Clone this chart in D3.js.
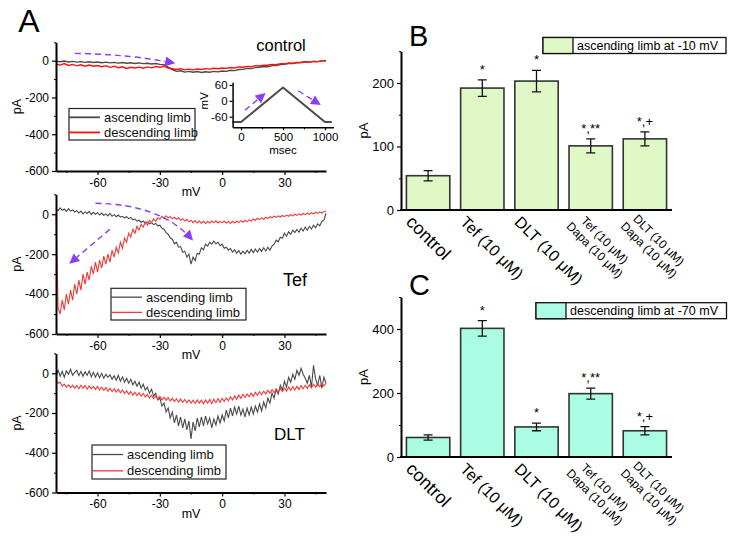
<!DOCTYPE html>
<html>
<head>
<meta charset="utf-8">
<script src="https://cdn.jsdelivr.net/npm/d3@7"></script>
<style>
  body { margin: 0; background: #fff; }
  svg { font-family: "Liberation Sans", Arial, sans-serif; }
</style>
</head>
<body>
<svg id="fig" width="734" height="538"></svg>
<script>
// ---- data: panel A, control traces sampled every 2 mV ----
const mv2 = [-80,-78,-76,-74,-72,-70,-68,-66,-64,-62,-60,-58,-56,-54,-52,-50,-48,-46,-44,-42,
  -40,-38,-36,-34,-32,-30,-28,-26,-24,-22,-20,-18,-16,-14,-12,-10,-8,-6,-4,-2,
  0,2,4,6,8,10,12,14,16,18,20,22,24,26,28,30,32,34,36,38,40,42,44,46,48,50];

const ctlAsc = [-3,-6,-2,-7,-4,-8,-5,-9,-6,-10,-7,-11,-8,-12,-9,-13,-10,-14,-11,-15,
  -12,-16,-14,-18,-15,-20,-22,-35,-48,-58,-55,-62,-58,-63,-59,-64,-60,-63,-58,-61,
  -56,-58,-52,-54,-48,-47,-42,-43,-38,-36,-32,-33,-27,-26,-21,-20,-15,-16,-11,-10,-7,-8,-4,-5,-1,0];
const ctlDesc = [-18,-24,-16,-26,-20,-28,-22,-30,-24,-30,-26,-33,-27,-36,-30,-38,-33,-42,-36,-40,
  -35,-41,-34,-39,-32,-36,-30,-40,-44,-48,-44,-50,-46,-50,-45,-48,-43,-46,-41,-44,
  -40,-42,-37,-40,-34,-36,-31,-33,-27,-29,-24,-25,-20,-22,-16,-17,-12,-14,-9,-10,-6,-8,-4,-5,-1,0];

// ---- Tef and DLT traces sampled every 1 mV ----
const mv1 = [-80,-79,-78,-77,-76,-75,-74,-73,-72,-71,-70,-69,-68,-67,-66,-65,-64,-63,-62,-61,
  -60,-59,-58,-57,-56,-55,-54,-53,-52,-51,-50,-49,-48,-47,-46,-45,-44,-43,-42,-41,
  -40,-39,-38,-37,-36,-35,-34,-33,-32,-31,-30,-29,-28,-27,-26,-25,-24,-23,-22,-21,
  -20,-19,-18,-17,-16,-15,-14,-13,-12,-11,-10,-9,-8,-7,-6,-5,-4,-3,-2,-1,
  0,1,2,3,4,5,6,7,8,9,10,11,12,13,14,15,16,17,18,19,20,21,22,23,24,25,26,27,28,29,
  30,31,32,33,34,35,36,37,38,39,40,41,42,43,44,45,46,47,48,49,50];

const tefAsc = [30,18,32,20,26,14,28,16,22,12, 18,6,16,2,12,4,14,-2,10,0,
  8,-4,6,-6,2,-8,4,-10,-2,-12, -4,-14,-10,-18,-12,-22,-16,-28,-24,-34,
  -30,-40,-34,-44,-38,-48,-42,-52,-46,-58, -55,-70,-75,-92,-100,-118,-125,-148,-140,-165,
  -162,-190,-185,-215,-200,-250,-215,-232,-195,-200, -168,-178,-150,-160,-140,-150,-135,-148,-140,-158,
  -150,-170,-165,-180,-172,-190,-178,-196,-182,-200, -185,-198,-180,-195,-176,-192,-174,-190,-172,-186,
  -168,-184,-165,-180,-160,-150,-130,-138,-115,-120, -95,-110,-88,-100,-80,-92,-76,-90,-70,-84,
  -64,-80,-60,-74,-55,-68,-48,-58,-36,-30, 5];
const tefDesc = [-5,-470,-500,-430,-480,-400,-450,-380,-430,-350, -400,-330,-380,-300,-350,-290,-330,-260,-300,-240,
  -290,-230,-270,-210,-250,-200,-240,-180,-215,-165, -195,-140,-170,-120,-140,-95,-115,-75,-95,-60,
  -80,-50,-65,-40,-55,-30,-42,-22,-35,-18, -25,-10,-20,-8,-18,-12,-22,-15,-25,-18,
  -30,-22,-34,-26,-38,-30,-42,-32,-44,-34, -45,-35,-46,-36,-44,-34,-42,-33,-44,-36,
  -42,-34,-44,-36,-46,-35,-44,-34,-42,-32, -40,-30,-38,-28,-34,-24,-30,-20,-27,-18,
  -25,-15,-22,-12,-18,-10,-16,-8,-14,-6, -12,-4,-10,-2,-8,0,-6,2,-4,4,
  -2,6,0,8,2,10,4,12,6,14, 15];

const dltAsc = [-17,15,-15,10,-20,12,-5,20,-10,5, 15,-12,10,-15,8,-10,12,-18,5,-20,
  2,-22,0,-25,-5,-20,-8,-30,-12,-35, -10,-40,-18,-45,-25,-50,-30,-58,-40,-65,
  -45,-75,-55,-85,-70,-100,-80,-115,-100,-135, -125,-165,-150,-195,-175,-225,-195,-250,-210,-265,
  -220,-275,-230,-285,-240,-330,-245,-290,-225,-270, -220,-265,-215,-255,-225,-275,-230,-260,-215,-250,
  -210,-240,-185,-225,-175,-215,-170,-205,-165,-210, -180,-220,-175,-210,-170,-205,-165,-195,-155,-190,
  -145,-175,-125,-150,-100,-125,-80,-105,-60,-85, -40,-70,-20,-45,-5,-30,15,-10,25,-5,
  -25,-50,-10,-70,40,-30,-60,-10,-75,-20, -50];
const dltDesc = [-30,-50,-45,-65,-55,-70,-58,-72,-60,-75, -62,-78,-60,-76,-62,-80,-64,-78,-66,-82,
  -66,-84,-70,-86,-72,-90,-75,-92,-78,-95, -80,-98,-84,-102,-88,-106,-92,-110,-95,-112,
  -98,-116,-102,-120,-106,-124,-110,-128,-114,-130, -116,-134,-120,-136,-122,-140,-126,-142,-128,-145,
  -130,-146,-132,-148,-134,-150,-136,-152,-134,-150, -136,-154,-134,-150,-132,-152,-130,-148,-128,-146,
  -126,-142,-124,-138,-118,-134,-114,-130,-110,-126, -106,-122,-104,-118,-100,-116,-96,-112,-92,-108,
  -90,-104,-86,-100,-82,-98,-80,-94,-76,-92, -74,-90,-70,-86,-68,-84,-66,-82,-62,-78,
  -60,-76,-58,-74,-55,-70,-52,-68,-50,-64, -50];

const mvTicks = [-60, -30, 0, 30];
const mvMinor = [-75, -45, -15, 15, 45];
const paTicks = [-600, -400, -200, 0];
const paMinor = [-500, -300, -100, 100];

// ramp protocol of the inset
const rampMs = [-100, 0, 500, 1000, 1080];
const rampMv = [-80, -80, 50, -80, -80];

// ---- data: panels B and C ----
const groups = ["control", "Tef (10 μM)", "DLT (10 μM)", "Tef (10 μM)|Dapa (10 μM)", "DLT (10 μM)|Dapa (10 μM)"];
const ascMean = [54, 192, 203, 101, 112];
const ascErr = [8, 13, 17, 11, 11];
const descMean = [61, 402, 94, 198, 82];
const descErr = [8, 24, 12, 17, 13];
const ascMarks = ["", "*", "*", "*,**", "*,+"];
const descMarks = ["", "*", "*", "*,**", "*,+"];

const svg = d3.select("#fig");
const purple = "#8a3cff";

// arrow head for the dashed purple arrows
svg.append("defs").append("marker")
  .attr("id", "head").attr("viewBox", "0 0 10 10")
  .attr("refX", 7).attr("refY", 5)
  .attr("markerWidth", 10).attr("markerHeight", 10)
  .attr("markerUnits", "userSpaceOnUse")
  .attr("orient", "auto")
  .append("path").attr("d", "M0,0L10,5L0,10Z").attr("fill", purple);

const noMinus = d => String(d);

function styleAxis(a, w) {
  a.select(".domain").attr("stroke-width", w).attr("stroke", "#000");
  a.selectAll(".tick line").attr("stroke-width", 1.2);
}

function arrow(g, x, y, pts) {
  const p = d3.path();
  p.moveTo(x(pts[0][0]), y(pts[0][1]));
  if (pts.length === 3) p.quadraticCurveTo(x(pts[1][0]), y(pts[1][1]), x(pts[2][0]), y(pts[2][1]));
  else p.lineTo(x(pts[1][0]), y(pts[1][1]));
  g.append("path").attr("d", p.toString())
    .attr("fill", "none").attr("stroke", purple)
    .attr("stroke-width", 1.4).attr("stroke-dasharray", "6,4")
    .attr("marker-end", "url(#head)");
}

// ---- panel A: I-V traces ----
function tracePanel(cfg) {
  const g = svg.append("g");
  const x = d3.scaleLinear([-80, 50], [56, 326]);
  const y = d3.scaleLinear([-600, 100], [cfg.bottom, cfg.top]);
  const line = d3.line().x((d, i) => x(cfg.mv[i])).y(d => y(d));

  g.append("path").datum(cfg.asc).attr("d", line)
    .attr("fill", "none").attr("stroke", "#4a4a4a").attr("stroke-width", cfg.lw);
  g.append("path").datum(cfg.desc).attr("d", line)
    .attr("fill", "none").attr("stroke", cfg.red).attr("stroke-width", cfg.lw);

  const ax = g.append("g").attr("transform", `translate(0,${cfg.bottom})`)
    .call(d3.axisBottom(x).tickValues(mvTicks).tickFormat(noMinus).tickSize(4).tickSizeOuter(0));
  ax.selectAll("text").attr("font-size", 12).attr("font-family", null);
  styleAxis(ax, 2);
  g.append("g").attr("transform", `translate(0,${cfg.bottom})`)
    .call(d3.axisBottom(x).tickValues(mvMinor).tickFormat("").tickSize(2).tickSizeOuter(0))
    .select(".domain").remove();

  const ay = g.append("g").attr("transform", "translate(56,0)")
    .call(d3.axisLeft(y).tickValues(paTicks).tickFormat(noMinus).tickSize(4).tickSizeOuter(0));
  ay.selectAll("text").attr("font-size", 12).attr("font-family", null);
  styleAxis(ay, 2);
  g.append("g").attr("transform", "translate(56,0)")
    .call(d3.axisLeft(y).tickValues(paMinor).tickFormat("").tickSize(2).tickSizeOuter(0))
    .select(".domain").remove();

  g.append("text").attr("transform", `translate(21,${y(-250)}) rotate(-90)`)
    .attr("text-anchor", "middle").attr("font-size", 12.5).text("pA");
  g.append("text").attr("x", 191).attr("y", cfg.bottom + 25)
    .attr("text-anchor", "middle").attr("font-size", 12.5).text("mV");

  g.append("text").attr("x", cfg.name[1]).attr("y", cfg.name[2])
    .attr("text-anchor", "middle").attr("font-size", cfg.name[3]).text(cfg.name[0]);

  // legend
  const lg = cfg.legend;
  g.append("rect").attr("x", lg.x).attr("y", lg.y).attr("width", lg.w).attr("height", lg.h)
    .attr("fill", "#fff").attr("stroke", "#222").attr("stroke-width", 1.2);
  [["ascending limb", "#4a4a4a", 0.28], ["descending limb", cfg.red, 0.76]].forEach(([t, c, f]) => {
    const yy = lg.y + lg.h * f;
    g.append("line").attr("x1", lg.x).attr("x2", lg.x + 31).attr("y1", yy).attr("y2", yy)
      .attr("stroke", c).attr("stroke-width", cfg.legendW);
    g.append("text").attr("x", lg.x + 35).attr("y", yy + 4.5).attr("font-size", 13).attr("fill", "#111").text(t);
  });

  cfg.arrows.forEach(a => arrow(g, x, y, a));
  return g;
}

tracePanel({
  top: 42.3, bottom: 171, mv: mv2, asc: ctlAsc, desc: ctlDesc, red: "#ff1010", lw: 1.4,
  name: ["control", 281, 51, 16.5], legendW: 1.8,
  legend: { x: 69, y: 108.5, w: 126, h: 31.5 },
  arrows: [[[-71, 40], [-46, 36], [-24, -11]]]
});
tracePanel({
  top: 194.3, bottom: 334, mv: mv1, asc: tefAsc, desc: tefDesc, red: "#f03a3a", lw: 1.1,
  name: ["Tef", 295, 286, 18], legendW: 1.3,
  legend: { x: 111, y: 288.3, w: 135, h: 31.7 },
  arrows: [[[-61, 55], [-30, 50], [-15, -120]], [[-54, -75], [-72.5, -238]]]
});
tracePanel({
  top: 353.4, bottom: 492.5, mv: mv1, asc: dltAsc, desc: dltDesc, red: "#f03a3a", lw: 1.1,
  name: ["DLT", 289.5, 440, 17], legendW: 1.3,
  legend: { x: 92, y: 445, w: 134, h: 34 },
  arrows: []
});

// ---- inset: ramp protocol ----
(function inset() {
  const g = svg.append("g");
  const x = d3.scaleLinear([-100, 1100], [232.6, 333.4]);
  const y = d3.scaleLinear([-100, 70], [127.3, 82.3]);
  g.append("path").datum(rampMv)
    .attr("d", d3.line().x((d, i) => x(rampMs[i])).y(d => y(d)))
    .attr("fill", "none").attr("stroke", "#4a4a4a").attr("stroke-width", 2);
  const ax = g.append("g").attr("transform", "translate(0,127.3)")
    .call(d3.axisBottom(x).tickValues([0, 500, 1000]).tickFormat(noMinus).tickSize(3).tickSizeOuter(0).tickPadding(3));
  ax.selectAll("text").attr("font-size", 11.5).attr("font-family", null);
  styleAxis(ax, 1.5);
  g.append("g").attr("transform", "translate(0,127.3)")
    .call(d3.axisBottom(x).tickValues([250, 750]).tickFormat("").tickSize(2).tickSizeOuter(0))
    .select(".domain").remove();
  const ay = g.append("g").attr("transform", "translate(232.6,0)")
    .call(d3.axisLeft(y).tickValues([-60, 0, 60]).tickFormat(noMinus).tickSize(3).tickSizeOuter(0).tickPadding(2));
  ay.selectAll("text").attr("font-size", 11.5).attr("font-family", null);
  styleAxis(ay, 1.5);
  g.append("text").attr("transform", `translate(208,${y(0)}) rotate(-90)`)
    .attr("text-anchor", "middle").attr("font-size", 11.5).text("mV");
  g.append("text").attr("x", 283).attr("y", 154)
    .attr("text-anchor", "middle").attr("font-size", 11.5).text("msec");
  arrow(g, x, y, [[48, -35], [265, 22]]);
  arrow(g, x, y, [[682, 38], [920, -10]]);
})();

// ---- panels B and C: bar charts ----
function barPanel(cfg) {
  const g = svg.append("g");
  const x = d3.scaleBand(d3.range(groups.length), [401, 672]).paddingInner(0.2).paddingOuter(0.1);
  const y = d3.scaleLinear([0, cfg.max], [cfg.bottom, cfg.top]);

  g.selectAll("rect.bar").data(cfg.mean).join("rect").attr("class", "bar")
    .attr("x", (d, i) => x(i)).attr("width", x.bandwidth())
    .attr("y", d => y(d)).attr("height", d => cfg.bottom - y(d))
    .attr("fill", cfg.fill).attr("stroke", "#333").attr("stroke-width", 1.6);

  const cx = i => x(i) + x.bandwidth() / 2;
  cfg.mean.forEach((m, i) => {
    const e = cfg.err[i];
    g.append("path")
      .attr("d", `M${cx(i)},${y(m - e)}V${y(m + e)}M${cx(i) - 4.5},${y(m - e)}h9M${cx(i) - 4.5},${y(m + e)}h9`)
      .attr("stroke", "#111").attr("stroke-width", 1.3).attr("fill", "none");
    if (cfg.marks[i]) {
      g.append("text").attr("x", cx(i)).attr("y", y(m + e) - 6)
        .attr("text-anchor", "middle").attr("font-size", 13).text(cfg.marks[i]);
    }
  });

  const ay = g.append("g").attr("transform", "translate(401,0)")
    .call(d3.axisLeft(y).tickValues(cfg.ticks).tickSize(4).tickSizeOuter(0));
  ay.selectAll("text").attr("font-size", 13).attr("font-family", null);
  styleAxis(ay, 2);
  g.append("g").attr("transform", "translate(401,0)")
    .call(d3.axisLeft(y).tickValues(cfg.minor).tickFormat("").tickSize(2).tickSizeOuter(0))
    .select(".domain").remove();
  g.append("line").attr("x1", 400).attr("x2", 672).attr("y1", cfg.bottom).attr("y2", cfg.bottom)
    .attr("stroke", "#000").attr("stroke-width", 2);

  g.append("text").attr("transform", `translate(368,${y(cfg.max * 0.5)}) rotate(-90)`)
    .attr("text-anchor", "middle").attr("font-size", 13).text("pA");

  // rotated category labels
  groups.forEach((lab, i) => {
    const parts = lab.split("|");
    if (parts.length === 1) {
      const fs = i === 0 ? 18 : 16;
      g.append("text")
        .attr("transform", `translate(${cx(i) - 23},${cfg.bottom + 13}) rotate(45)`)
        .attr("font-size", fs).text(lab);
    } else {
      const t = g.append("text")
        .attr("transform", `translate(${cx(i) + 11},${cfg.bottom + 33}) rotate(45)`)
        .attr("font-size", 12).attr("text-anchor", "middle");
      parts.forEach((p, k) => t.append("tspan").attr("x", 0).attr("dy", k ? 14 : 0).text(p));
    }
  });

  // legend
  const lg = cfg.legend;
  g.append("rect").attr("x", lg.x).attr("y", lg.y).attr("width", lg.w).attr("height", 16)
    .attr("fill", "#fff").attr("stroke", "#111").attr("stroke-width", 1.3);
  g.append("rect").attr("x", lg.x).attr("y", lg.y).attr("width", 30).attr("height", 16)
    .attr("fill", cfg.fill).attr("stroke", "#111").attr("stroke-width", 1.3);
  g.append("text").attr("x", lg.x + 34).attr("y", lg.y + 12.5).attr("font-size", 12.5).text(cfg.legendText);

  g.append("text").attr("x", 409).attr("y", cfg.letterY).attr("font-size", 29).text(cfg.letter);
}

barPanel({
  mean: ascMean, err: ascErr, marks: ascMarks, max: 250, top: 51.25, bottom: 210,
  ticks: [0, 100, 200], minor: [50, 150, 250], fill: "#e0f8c6",
  legend: { x: 543, y: 37.5, w: 183 }, legendText: "ascending limb at -10 mV",
  letter: "B", letterY: 45.5
});
barPanel({
  mean: descMean, err: descErr, marks: descMarks, max: 500, top: 297, bottom: 457,
  ticks: [0, 200, 400], minor: [100, 300, 500], fill: "#aafce2",
  legend: { x: 536, y: 302.7, w: 190.5 }, legendText: "descending limb at -70 mV",
  letter: "C", letterY: 294.5
});

svg.append("text").attr("x", 29).attr("y", 31.5).attr("text-anchor", "middle")
  .attr("font-size", 32).text("A");
</script>
</body>
</html>
